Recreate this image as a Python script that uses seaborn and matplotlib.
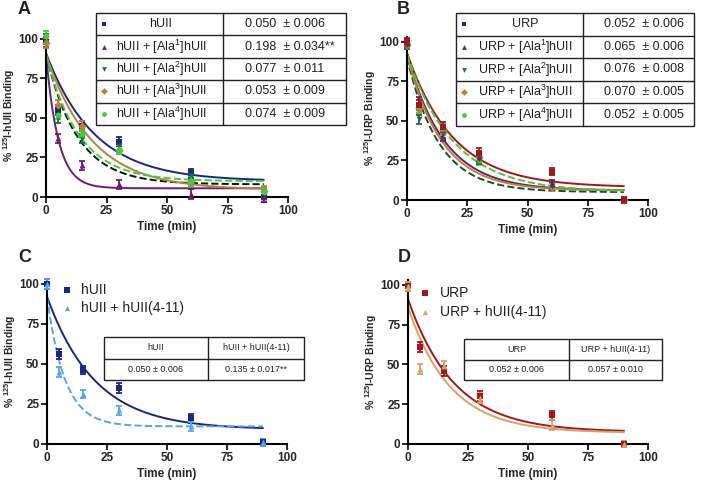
import numpy as np
import matplotlib
matplotlib.use("Agg")
import matplotlib.pyplot as plt
import seaborn as sns

sns.set_theme(style="ticks")
plt.rcParams['font.family'] = ['Liberation Sans', 'DejaVu Sans']
plt.rcParams['mathtext.fontset'] = 'custom'
plt.rcParams['mathtext.rm'] = 'Liberation Sans'
plt.rcParams['mathtext.bf'] = 'Liberation Sans:bold'

# sampling times (min)
times = [0, 5, 15, 30, 60, 90]

# colours
NAVY = "#1c2580"
PURPLE = "#6e1f6a"
DKGREEN = "#1d6b50"
BROWN = "#b5833f"
GREEN = "#3ccf3c"
RED = "#a5161b"
LTBLUE = "#5aa3e8"
TAN = "#d3a36a"

# ---- panel A : hUII with Ala analogues ----
a_labels = ["hUII", "hUII + [Ala$^1$]hUII", "hUII + [Ala$^2$]hUII",
            "hUII + [Ala$^3$]hUII", "hUII + [Ala$^4$]hUII"]
a_koff = ["0.050  \u00b1 0.006", "0.198  \u00b1 0.034**", "0.077  \u00b1 0.011",
          "0.053  \u00b1 0.009", "0.074  \u00b1 0.009"]
a_hUII = [98, 55, 45, 35, 15, 0]
a_ala1 = [100, 37, 20, 8, 2, 0]
a_ala2 = [98, 50, 37, 32, 13, 3]
a_ala3 = [97, 58, 45, 30, 10, 4]
a_ala4 = [102, 52, 40, 30, 10, 3]
a_err = [3, 3, 3, 3, 3, 3]
# fit parameters: Y0, plateau, k
a_fit_y0 = [91, 90, 90, 90, 90]
a_fit_plateau = [10, 5.5, 8, 4.5, 10]
a_fit_k = [0.050, 0.198, 0.077, 0.053, 0.074]

# ---- panel B : URP with Ala analogues ----
b_labels = ["URP", "URP + [Ala$^1$]hUII", "URP + [Ala$^2$]hUII",
            "URP + [Ala$^3$]hUII", "URP + [Ala$^4$]hUII"]
b_koff = ["0.052  \u00b1 0.006", "0.065  \u00b1 0.006", "0.076  \u00b1 0.008",
          "0.070  \u00b1 0.005", "0.052  \u00b1 0.005"]
b_urp = [100, 60, 46, 30, 18, 0]
b_ala1 = [99, 62, 40, 27, 10, 0]
b_ala2 = [98, 51, 42, 26, 9, 0]
b_ala3 = [98, 58, 44, 27, 8, 0]
b_ala4 = [99, 57, 45, 25, 8, 0]
b_err = [2.5, 3, 3, 3, 2.5, 2]
b_fit_y0 = [93, 92, 90, 92, 92]
b_fit_plateau = [8, 6, 5, 6, 5]
b_fit_k = [0.052, 0.065, 0.076, 0.070, 0.052]

# ---- panel C : hUII +/- hUII(4-11) ----
c_labels = ["hUII", "hUII + hUII(4-11)"]
c_koff = ["0.050 \u00b1 0.006", "0.135 \u00b1 0.017**"]
c_hUII = [100, 56, 46, 35, 16, 1]
c_frag = [100, 45, 31, 21, 11, 1]
c_err = [3, 3, 2.5, 3, 3, 2]
c_fit_y0 = [92, 92]
c_fit_plateau = [9, 11]
c_fit_k = [0.050, 0.135]

# ---- panel D : URP +/- hUII(4-11) ----
d_labels = ["URP", "URP + hUII(4-11)"]
d_koff = ["0.052 \u00b1 0.006", "0.057 \u00b1 0.010"]
d_urp = [99, 61, 46, 30, 18, 0]
d_frag = [99, 47, 49, 29, 12, 0]
d_err = [3, 3, 3, 3, 3, 2]
d_fit_y0 = [91, 86]
d_fit_plateau = [7.5, 7]
d_fit_k = [0.052, 0.057]


def decay_curve(y0, plateau, k):
    t = np.linspace(0, 90, 200)
    return t, plateau + (y0 - plateau) * np.exp(-k * t)


def draw_series(ax, vals, err, color, marker):
    ax.errorbar(times, vals, yerr=err, fmt='none', ecolor=color, capsize=2.5,
                elinewidth=1.3, capthick=1.3, clip_on=False, zorder=3)
    sns.scatterplot(x=times, y=vals, ax=ax, color=color, marker=marker, s=18,
                    edgecolor=color, linewidth=0, clip_on=False, zorder=4)


def draw_fit(ax, y0, plateau, k, color, ls='-'):
    t, y = decay_curve(y0, plateau, k)
    sns.lineplot(x=t, y=y, ax=ax, color=color, linestyle=ls, linewidth=1.4,
                 zorder=2)


def style_axes(ax, ylabel):
    ax.set_xlim(0, 100)
    ax.set_ylim(0, 103)
    ax.set_xticks([0, 25, 50, 75, 100])
    ax.set_yticks([0, 25, 50, 75, 100])
    for lab in ax.get_xticklabels() + ax.get_yticklabels():
        lab.set_fontweight('bold')
        lab.set_fontsize(8.5)
    ax.tick_params(width=1.4, length=4, pad=1.5)
    for s in ['left', 'bottom']:
        ax.spines[s].set_linewidth(1.5)
        ax.spines[s].set_color('black')
    sns.despine(ax=ax)
    ax.set_xlabel("Time (min)", fontsize=8.5, fontweight='bold', labelpad=3)
    ax.set_ylabel(ylabel, fontsize=7.5, fontweight='bold', labelpad=1)


W, H = 709, 482
fig = plt.figure(figsize=(W / 100, H / 100), dpi=100)


def px_axes(x0, x1, ytop, ybot):
    return fig.add_axes([x0 / W, 1 - ybot / H, (x1 - x0) / W, (ybot - ytop) / H])


axA = px_axes(46, 288, 34, 197)
axB = px_axes(407, 648, 37, 200)
axC = px_axes(47, 287, 279, 444)
axD = px_axes(408, 648, 280, 444)

# panel A
a_series = [a_hUII, a_ala1, a_ala2, a_ala3, a_ala4]
a_colors = [NAVY, PURPLE, DKGREEN, BROWN, GREEN]
a_markers = ['s', '^', 'v', 'D', 'o']
a_line_colors = [NAVY, PURPLE, "#111111", BROWN, GREEN]
a_ls = ['-', '-', '--', '-', '--']
for i in range(5):
    draw_fit(axA, a_fit_y0[i], a_fit_plateau[i], a_fit_k[i], a_line_colors[i], a_ls[i])
for vals, c, m in zip(a_series, a_colors, a_markers):
    draw_series(axA, vals, a_err, c, m)
style_axes(axA, r"% $^{\mathbf{125}}$I-hUII Binding")

# panel B
b_series = [b_urp, b_ala1, b_ala2, b_ala3, b_ala4]
b_colors = [RED, PURPLE, DKGREEN, BROWN, GREEN]
b_line_colors = [RED, PURPLE, "#1a4a38", BROWN, GREEN]
for i in range(5):
    draw_fit(axB, b_fit_y0[i], b_fit_plateau[i], b_fit_k[i], b_line_colors[i], a_ls[i])
for vals, c, m in list(zip(b_series, b_colors, a_markers))[::-1]:
    draw_series(axB, vals, b_err, c, m)
style_axes(axB, r"% $^{\mathbf{125}}$I-URP Binding")

# panel C
draw_fit(axC, c_fit_y0[0], c_fit_plateau[0], c_fit_k[0], NAVY)
draw_fit(axC, c_fit_y0[1], c_fit_plateau[1], c_fit_k[1], LTBLUE, '--')
draw_series(axC, c_hUII, c_err, NAVY, 's')
draw_series(axC, c_frag, c_err, LTBLUE, '^')
style_axes(axC, r"% $^{\mathbf{125}}$I-hUII Binding")

# panel D
draw_fit(axD, d_fit_y0[0], d_fit_plateau[0], d_fit_k[0], RED)
draw_fit(axD, d_fit_y0[1], d_fit_plateau[1], d_fit_k[1], TAN)
draw_series(axD, d_urp, d_err, RED, 's')
draw_series(axD, d_frag, d_err, TAN, '^')
style_axes(axD, r"% $^{\mathbf{125}}$I-URP Binding")

# overlay in pixel coordinates for tables, legends and panel letters
ov = fig.add_axes([0, 0, 1, 1], facecolor='none')
ov.set_xlim(0, W)
ov.set_ylim(H, 0)
ov.axis('off')


def grid_table(x0, x1, xm, y0, y1, nrows, lw=1.0):
    ov.add_patch(plt.Rectangle((x0, y0), x1 - x0, y1 - y0, facecolor='white',
                               edgecolor='#222222', lw=lw, zorder=5))
    ov.plot([xm, xm], [y0, y1], color='#222222', lw=lw, zorder=6)
    rh = (y1 - y0) / nrows
    for r in range(1, nrows):
        ov.plot([x0, x1], [y0 + r * rh, y0 + r * rh], color='#222222', lw=lw, zorder=6)
    return rh


def big_table(x0, x1, xm, y0, y1, labels, koffs, colors, label_cx, val_x):
    rh = grid_table(x0, x1, xm, y0, y1, 5)
    for r in range(5):
        yc = y0 + (r + 0.5) * rh
        ov.scatter([x0 + 8], [yc], marker=a_markers[r], s=12, color=colors[r],
                   linewidths=0, zorder=7)
        ov.text(label_cx, yc, labels[r], ha='center', va='center', fontsize=9,
                color='#222222', zorder=7)
        ov.text(val_x, yc, koffs[r], ha='left', va='center', fontsize=9,
                color='#222222', zorder=7)


big_table(96, 346, 223, 13, 125, a_labels, a_koff, a_colors, 161, 245)
big_table(456, 694, 583, 13, 126, b_labels, b_koff,
          [NAVY, PURPLE, DKGREEN, BROWN, GREEN], 525, 604)


def small_table(x0, x1, xm, y0, y1, labels, koffs):
    rh = grid_table(x0, x1, xm, y0, y1, 2)
    for j, (cx0, cx1) in enumerate([(x0, xm), (xm, x1)]):
        ov.text((cx0 + cx1) / 2, y0 + 0.5 * rh, labels[j], ha='center', va='center',
                fontsize=6.5, color='#222222', zorder=7)
        ov.text((cx0 + cx1) / 2, y0 + 1.5 * rh, koffs[j], ha='center', va='center',
                fontsize=6.5, color='#222222', zorder=7)


small_table(104, 304, 208, 337, 380, c_labels, c_koff)
small_table(464, 662, 569, 339, 380, d_labels, d_koff)

# legends for C and D
for (mx, tx, ys, labels, colors) in [
        (67, 81, [290, 308], c_labels, [NAVY, LTBLUE]),
        (425, 440, [293, 312], d_labels, [RED, TAN])]:
    for y, lab, c, m in zip(ys, labels, colors, ['s', '^']):
        ov.scatter([mx], [y], marker=m, s=14, color=c, linewidths=0, zorder=7)
        ov.text(tx, y, lab, ha='left', va='center', fontsize=10, color='#222222',
                zorder=7)

# panel letters
for letter, x, y in [("A", 18, 10), ("B", 397, 10), ("C", 18, 258), ("D", 398, 258)]:
    ov.text(x, y, letter, ha='left', va='center', fontsize=13, fontweight='bold',
            color='#222222')

fig.savefig("out.png", dpi=100)
